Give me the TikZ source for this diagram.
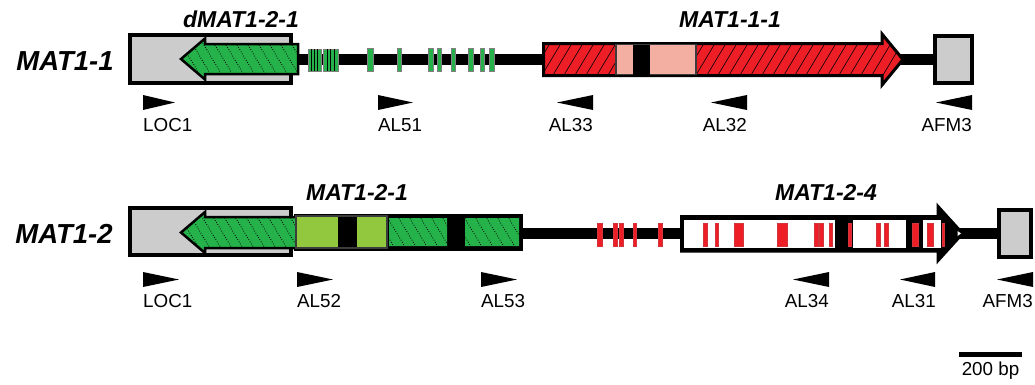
\documentclass[tikz,border=0pt]{standalone}
\usepackage{fontspec}
\setmainfont{Liberation Sans}
\definecolor{ggray}{RGB}{204,204,204}
\definecolor{ggreen}{RGB}{38,178,74}
\definecolor{gred}{RGB}{237,30,38}
\definecolor{gpink}{RGB}{243,176,162}
\definecolor{glime}{RGB}{146,200,62}
\definecolor{gdark}{RGB}{60,60,60}
\tikzset{
  backbone/.style={line width=11pt, black},
  graybox/.style={fill=ggray, draw=black, line width=4pt},
  outl/.style={draw=black, line width=2.5pt, line join=miter},
  ghatch/.style={black, line width=0.8pt, dash pattern=on 0.8pt off 1.7pt},
  rhatch/.style={black, line width=0.6pt},
  gbar/.style={fill=ggreen, draw=gray, line width=0.5pt},
  gstripe/.style={black, line width=0.6pt},
  rbar/.style={fill=gred, draw=gred!75!gray, line width=0.3pt},
  primer/.style={fill=black},
  plabel/.style={font=\fontsize{18.8}{20}\selectfont, inner sep=0pt},
  gtitle/.style={font=\fontsize{23}{25}\selectfont\bfseries\itshape, inner sep=0pt, anchor=base},
  biglabel/.style={font=\fontsize{27.5}{30}\selectfont\bfseries\itshape, inner sep=0pt, anchor=base},
}
\begin{document}
\begin{tikzpicture}[x=1pt,y=-1pt]
\useasboundingbox (0,0) rectangle (1035,384);

% ================= MAT1-1 =================
\draw[backbone] (290,59) -- (936,59);
\draw[graybox] (130,35) rectangle (291,83);
% green arrow (dMAT1-2-1)
\begin{scope}
  \clip (298,44) -- (205,44) -- (205,38.5) -- (181,59) -- (205,79.5) -- (205,74) -- (298,74) -- cycle;
  \fill[ggreen] (175,30) rectangle (305,90);
  \foreach \x in {140,151,...,310} \draw[ghatch] (\x,30) -- ++(33,55);
\end{scope}
\draw[outl] (298,44) -- (205,44) -- (205,38.5) -- (181,59) -- (205,79.5) -- (205,74) -- (298,74) -- cycle;
% green exon bars
\draw[gbar] (308,49) rectangle (321,71);
\draw[gstripe] (311.5,49) -- (311.5,71) (314.5,49) -- (314.5,71) (317.5,49) -- (317.5,71);
\draw[gbar] (323,49) rectangle (338,71);
\draw[gstripe] (327,49) -- (327,71) (330.5,49) -- (330.5,71) (334,49) -- (334,71);
\foreach \a/\b in {367/373,397/401,428/433,437/441,451/455,468/473,480/484,489/494}
  \draw[gbar] (\a,48) rectangle (\b,71);
% red arrow (MAT1-1-1)
\begin{scope}
  \clip (543.5,43.5) -- (882,43.5) -- (882,34) -- (903,59.5) -- (882,85) -- (882,75.5) -- (543.5,75.5) -- cycle;
  \fill[gred] (540,30) rectangle (910,90);
  \foreach \x in {500,511,...,920} \draw[rhatch] (\x,90) -- ++(36,-60);
\end{scope}
\draw[outl, line width=3pt] (543.5,43.5) -- (882,43.5) -- (882,34) -- (903,59.5) -- (882,85) -- (882,75.5) -- (543.5,75.5) -- cycle;
\draw[fill=gpink, draw=gdark, line width=1.5pt] (616,44.5) rectangle (696,74.5);
\fill[black] (633,44.5) rectangle (650,74.5);
\draw[graybox] (935,36) rectangle (972,83);

% primers MAT1-1
\fill[primer] (143,95) -- (175,102.5) -- (143,110) -- cycle;
\fill[primer] (378,95) -- (413,102.5) -- (378,110) -- cycle;
\fill[primer] (593,95) -- (557,102.5) -- (593,110) -- cycle;
\fill[primer] (747,95) -- (711,102.5) -- (747,110) -- cycle;
\fill[primer] (972,95) -- (936,102.5) -- (972,110) -- cycle;
\node[plabel, anchor=base west] (t-loc1a) at (143,131.5) {LOC1};
\node[plabel, anchor=base west] (t-al51) at (378,131.5) {AL51};
\node[plabel, anchor=base east] (t-al33) at (593,131.5) {AL33};
\node[plabel, anchor=base east] (t-al32) at (747,131.5) {AL32};
\node[plabel, anchor=base east] (t-afm3a) at (972,131.5) {AFM3};

\node[gtitle] (t-dmat) at (241,27) {dMAT1-2-1};
\node[gtitle] (t-mat111) at (730,27) {MAT1-1-1};
\node[biglabel] (t-mat11) at (65,70.5) {MAT1-1};

% ================= MAT1-2 =================
\draw[backbone] (520,233) -- (1000,233);
\draw[graybox] (130,208) rectangle (291,255);
% gene box MAT1-2-1
\fill[black] (294,213.5) rectangle (523,250.5);
% green arrow
\begin{scope}
  \clip (297,217) -- (205,217) -- (205,212) -- (181,232.5) -- (205,253) -- (205,248) -- (297,248) -- cycle;
  \fill[ggreen] (175,205) rectangle (305,260);
  \foreach \x in {140,151,...,310} \draw[ghatch] (\x,205) -- ++(33,55);
\end{scope}
\draw[outl] (297,217) -- (205,217) -- (205,212) -- (181,232.5) -- (205,253) -- (205,248) -- (297,248);
\fill[glime] (297,217) rectangle (338,247);
\fill[glime] (357,217) rectangle (386,247);
\draw[gdark, line width=1.2pt] (296,216) rectangle (387,248);
\begin{scope}
  \clip (389,218) rectangle (447,246) (465,218) rectangle (519,246);
  \fill[ggreen] (385,215) rectangle (525,250);
  \foreach \x in {340,351,...,530} \draw[ghatch] (\x,212) -- ++(23,38);
\end{scope}

% red bars on backbone
\foreach \a/\b in {597/602,613/617,619/623,633/636,658/662}
  \draw[rbar] (\a,223) rectangle (\b,246);
% MAT1-2-4 arrow
\draw[fill=black, draw=black, line width=3pt, line join=miter] (681.5,216.5) -- (938,216.5) -- (938,206.5) -- (962.5,233.5) -- (938,260.5) -- (938,251) -- (681.5,251) -- cycle;
\fill[white] (684,220) rectangle (835,248);
\fill[white] (853,220) rectangle (906,248);
\fill[white] (923,220) rectangle (941,248);
\fill[white] (957.5,231) -- (961,233.5) -- (957.5,236) -- cycle;
\foreach \a/\b in {703/707,715/718.5,734/743,777/787,814/818,819.5/823.5,829/832.5,848/851,876/880,884/888,912/918,927/933,942/944.5}
  \draw[rbar] (\a,223) rectangle (\b,246);
\draw[graybox] (999,210) rectangle (1031,257);

% primers MAT1-2
\fill[primer] (143,272) -- (179,279.5) -- (143,287) -- cycle;
\fill[primer] (297,272) -- (333,279.5) -- (297,287) -- cycle;
\fill[primer] (481,272) -- (517,279.5) -- (481,287) -- cycle;
\fill[primer] (829,272) -- (793,279.5) -- (829,287) -- cycle;
\fill[primer] (935,272) -- (900,279.5) -- (935,287) -- cycle;
\fill[primer] (1033,272) -- (997,279.5) -- (1033,287) -- cycle;
\node[plabel, anchor=base west] (b-loc1) at (143,307.5) {LOC1};
\node[plabel, anchor=base west] (b-al52) at (297,307.5) {AL52};
\node[plabel, anchor=base west] (b-al53) at (481,307.5) {AL53};
\node[plabel, anchor=base east] (b-al34) at (829,307.5) {AL34};
\node[plabel, anchor=base east] (b-al31) at (936,307.5) {AL31};
\node[plabel, anchor=base east] (b-afm3) at (1033,307.5) {AFM3};

\node[gtitle] (b-mat121) at (357,200) {MAT1-2-1};
\node[gtitle] (b-mat124) at (826,200) {MAT1-2-4};
\node[biglabel] (b-mat12) at (64,243) {MAT1-2};

% scale bar
\draw[line width=5pt] (959,354.5) -- (1022,354.5);
\node[plabel, anchor=base] (scale) at (990.5,375) {200 bp};
\end{tikzpicture}
\end{document}
